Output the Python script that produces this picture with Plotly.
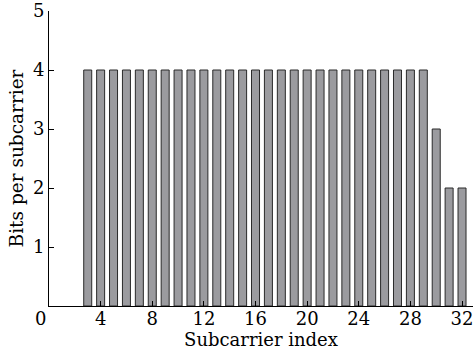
import plotly.graph_objects as go

# Bit loading per subcarrier
subcarriers = list(range(3, 33))
bits = [4] * 27 + [3, 2, 2]

x_ticks = [4, 8, 12, 16, 20, 24, 28, 32]
y_ticks = [1, 2, 3, 4, 5]

font_family = "DejaVu Serif"

fig = go.Figure(
    go.Bar(
        x=subcarriers,
        y=bits,
        width=0.62,
        marker=dict(color="#9b9b9f", line=dict(color="#2a2a2a", width=1)),
    )
)

fig.update_layout(
    width=473,
    height=352,
    margin=dict(l=49, r=0, t=11, b=46),
    plot_bgcolor="white",
    paper_bgcolor="white",
    showlegend=False,
    font=dict(family=font_family, size=18, color="black"),
)

fig.update_xaxes(
    range=[0, 32.85],
    tickvals=x_ticks,
    ticktext=[str(v) for v in x_ticks],
    ticks="inside",
    ticklen=5,
    tickcolor="black",
    ticklabeloverflow="allow",
    ticklabelstandoff=-4,
    showline=True,
    linecolor="black",
    linewidth=1,
    showgrid=False,
    zeroline=False,
    tickfont=dict(family=font_family, size=18),
    title=dict(text="Subcarrier index", font=dict(family=font_family, size=18), standoff=2),
)

fig.update_yaxes(
    range=[0, 5],
    tickvals=y_ticks,
    ticktext=[str(v) for v in y_ticks],
    ticks="inside",
    ticklen=5,
    tickcolor="black",
    showline=True,
    linecolor="black",
    linewidth=1,
    showgrid=False,
    zeroline=False,
    tickfont=dict(family=font_family, size=18),
    title=dict(text="Bits per subcarrier", font=dict(family=font_family, size=18.5), standoff=4),
)

# Shared origin label at the corner
fig.add_annotation(
    x=0, y=0, xref="x", yref="y",
    text="0", showarrow=False,
    xanchor="right", yanchor="top",
    xshift=-1, yshift=0,
    font=dict(family=font_family, size=18, color="black"),
)

fig.write_html("out.html")
